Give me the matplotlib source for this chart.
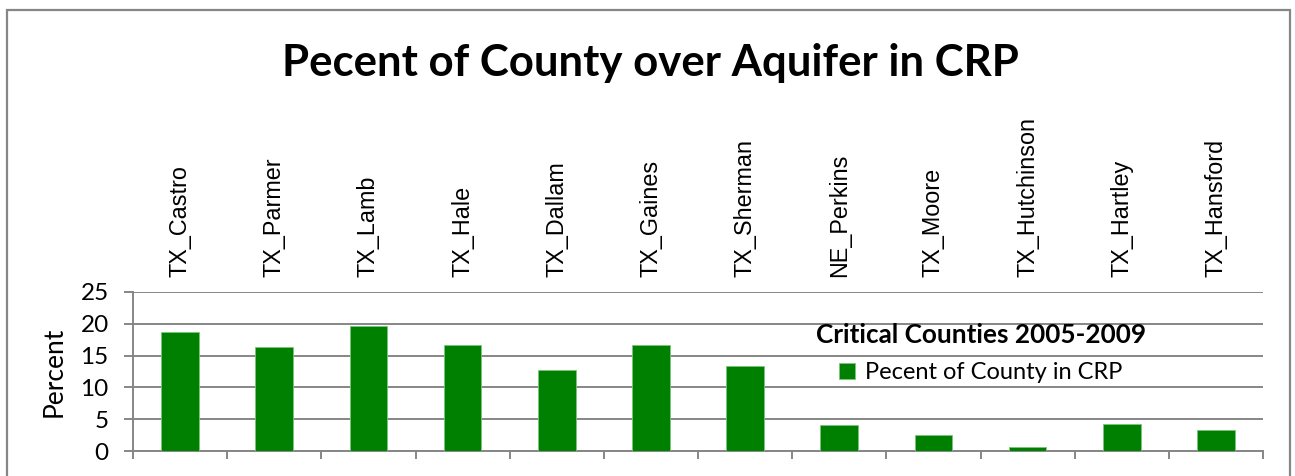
"""Share of each critical county over the aquifer enrolled in CRP, 2005-2009."""

import matplotlib

matplotlib.use("Agg")
import matplotlib.pyplot as plt
from matplotlib.patches import Rectangle

COUNTIES = [
    "TX_Castro", "TX_Parmer", "TX_Lamb", "TX_Hale", "TX_Dallam", "TX_Gaines",
    "TX_Sherman", "NE_Perkins", "TX_Moore", "TX_Hutchinson", "TX_Hartley", "TX_Hansford",
]
CRP_PERCENT = [18.7, 16.4, 19.6, 16.6, 12.8, 16.7, 13.3, 4.1, 2.5, 0.6, 4.2, 3.3]
Y_TICKS = [0, 5, 10, 15, 20, 25]

TITLE = "Pecent of County over Aquifer in CRP"
LEGEND_TITLE = "Critical Counties 2005-2009"
SERIES_LABEL = "Pecent of County in CRP"

BAR_GREEN = "#008000"
GRID_GREY = "#868686"
BODY_FONT = "Lato"
LABEL_FONT = "Liberation Sans"

W, H, DPI = 1295, 476, 100

fig = plt.figure(figsize=(W / DPI, H / DPI), dpi=DPI)

# plot area in pixel terms: x 133..1263, y 292..451 (from top)
ax = fig.add_axes([133 / W, 1 - 451 / H, 1130 / W, 159 / H])

positions = list(range(len(COUNTIES)))
ax.bar(positions, CRP_PERCENT, width=0.4, color=BAR_GREEN,
       edgecolor="#7cc47c", linewidth=0.6, label=SERIES_LABEL, zorder=3)

ax.set_xlim(-0.5, len(COUNTIES) - 0.5)
ax.set_ylim(Y_TICKS[0], Y_TICKS[-1])
ax.set_yticks(Y_TICKS)
ax.yaxis.grid(True, color=GRID_GREY, linewidth=1.4, zorder=0)
ax.set_axisbelow(True)

# county names sit above the plot, category separators below
ax.set_xticks(positions)
ax.set_xticklabels(COUNTIES, fontfamily=LABEL_FONT, fontsize=16.8)
ax.tick_params(axis="x", which="major", bottom=False, labelbottom=False,
               top=True, labeltop=True, length=0, pad=11, labelrotation=90)
ax.set_xticks([p - 0.5 for p in positions] + [len(COUNTIES) - 0.5], minor=True)
ax.tick_params(axis="x", which="minor", bottom=True, top=False, direction="out",
               length=6, width=1.4, color=GRID_GREY)

ax.tick_params(axis="y", direction="out", length=6.5, width=1.4, color=GRID_GREY,
               pad=11, labelsize=17.5)
for label in ax.get_yticklabels():
    label.set_fontfamily(BODY_FONT)

for side in ("top", "right"):
    ax.spines[side].set_visible(False)
for side in ("left", "bottom"):
    ax.spines[side].set_color(GRID_GREY)
    ax.spines[side].set_linewidth(1.4)

ax.set_ylabel("Percent", fontfamily=BODY_FONT, fontsize=19, labelpad=10)

fig.text(650 / W, 1 - 63 / H, TITLE, ha="center", va="center",
         fontfamily=BODY_FONT, fontweight="bold", fontsize=31.5)

legend = ax.legend(loc="center", bbox_to_anchor=(981 / W, 1 - 353 / H),
                   bbox_transform=fig.transFigure, frameon=False,
                   title=LEGEND_TITLE, prop={"family": BODY_FONT, "size": 17},
                   handlelength=0.65, handleheight=0.65, handletextpad=0.45,
                   borderpad=0, labelspacing=0.65)
legend.get_title().set_fontfamily(BODY_FONT)
legend.get_title().set_fontweight("bold")
legend.get_title().set_fontsize(18.8)

# chart border around the whole drawing
fig.patches.append(Rectangle((7 / W, -0.02), (1290 - 7) / W, 1 - 10 / H + 0.02,
                             transform=fig.transFigure, fill=False,
                             edgecolor=GRID_GREY, linewidth=1.6))

fig.savefig("out.png", dpi=DPI)
